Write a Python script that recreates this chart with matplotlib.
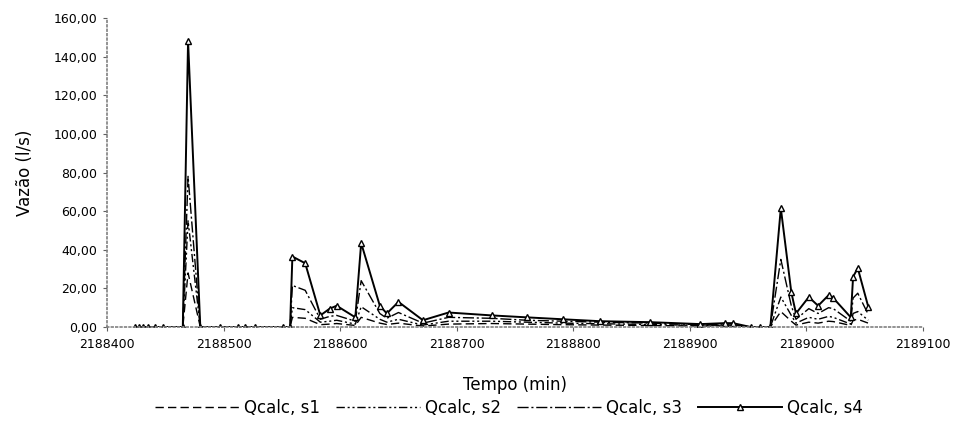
import matplotlib.pyplot as plt
from matplotlib.ticker import FuncFormatter

plt.switch_backend('Agg')

# time in minutes (offset from 2188400) and computed discharge per scenario
t0 = 2188400
t_off = [24, 27, 31, 35, 41, 48, 65, 69.5, 80, 97, 112, 118, 127, 151, 157,
         159, 170, 183, 191, 197, 213, 218, 234, 240, 250, 271, 293, 330, 360,
         391, 423, 466, 509, 530, 537, 552, 560, 569, 578, 587, 591, 602, 610,
         619, 623, 638, 640, 644, 653]

q_s1 = [0, 0, 0, 0, 0, 0, 0, 28, 0, 0, 0, 0, 0, 0, 0,
        5, 4.5, 1.2, 1.5, 1.8, 0.8, 5, 2, 1.3, 2, 0.5, 1.5, 1.8, 1.5,
        1.2, 1, 0.8, 0.5, 0.6, 0.6, 0, 0, 0, 8, 3, 1, 2.5, 2,
        3, 2.8, 0.8, 3.5, 4, 2]
q_s2 = [0, 0, 0, 0, 0, 0, 0, 55, 0, 0, 0, 0, 0, 0, 0,
        10, 9, 2.5, 3, 3.5, 1.5, 10.5, 4, 2.5, 4, 1, 3, 3, 2.5,
        2, 1.7, 1.3, 0.8, 1, 1, 0, 0, 0, 15.5, 6, 2, 5, 4,
        5.5, 5, 1.5, 7, 8, 3.5]
q_s3 = [0, 0, 0, 0, 0, 0, 0, 78, 0, 0, 0, 0, 0, 0, 0,
        21.5, 19, 4, 5.5, 6, 3, 24, 7, 4.5, 7.5, 2, 5, 4.5, 3.5,
        3, 2.5, 2, 1.2, 1.5, 1.5, 0, 0, 0, 35, 11, 4, 9.5, 7,
        10, 9.5, 3, 15, 17.5, 6.5]
q_s4 = [0, 0, 0, 0, 0, 0, 0, 148, 0, 0, 0, 0, 0, 0, 0,
        36.5, 33, 6, 9.5, 11, 5, 43.5, 11, 7, 13, 3.5, 7.5, 6, 5,
        4, 3, 2.5, 1.5, 2, 2, 0, 0, 0, 61.5, 18, 7, 15.5, 11,
        16.5, 15, 5, 26, 30.5, 10.5]

t = [t0 + v for v in t_off]

fig = plt.figure(figsize=(9.6, 4.36), dpi=100)
ax = fig.add_axes([0.1115, 0.25, 0.85, 0.7087])

ax.plot(t, q_s1, color='black', lw=1, linestyle=(0, (6, 3)), label='Qcalc, s1')
ax.plot(t, q_s2, color='black', lw=1, linestyle=(0, (6, 2, 1.5, 2, 1.5, 2)), label='Qcalc, s2')
ax.plot(t, q_s3, color='black', lw=1, linestyle=(0, (8, 2, 1.5, 2)), label='Qcalc, s3')
ax.plot(t, q_s4, color='black', lw=1.4, marker='^', markersize=5,
        markerfacecolor='white', markeredgecolor='black', label='Qcalc, s4')

ax.set_xlim(2188400, 2189100)
ax.set_ylim(0, 160)
ax.set_xticks(range(2188400, 2189101, 100))
ax.set_yticks(range(0, 161, 20))
ax.xaxis.set_major_formatter(FuncFormatter(lambda v, p: '%d' % v))
ax.yaxis.set_major_formatter(FuncFormatter(lambda v, p: ('%.2f' % v).replace('.', ',')))

for side in ['top', 'right']:
    ax.spines[side].set_visible(False)
for side in ['left', 'bottom']:
    ax.spines[side].set_color('#808080')
    ax.spines[side].set_linestyle(':')
    ax.spines[side].set_linewidth(1.2)

ax.tick_params(axis='both', direction='out', length=3, width=0.8,
               color='#606060', labelsize=9)
ax.tick_params(axis='x', pad=5)
ax.tick_params(axis='y', pad=4)

ax.set_ylabel('Vazão (l/s)', fontsize=12, labelpad=14)
ax.set_xlabel('Tempo (min)', fontsize=12, labelpad=18)

fig.legend(loc='center', bbox_to_anchor=(0.53, 0.065), ncol=4, frameon=False,
           fontsize=12, handlelength=5, columnspacing=1.0, handletextpad=0.3)

plt.savefig('out.png', dpi=100)
